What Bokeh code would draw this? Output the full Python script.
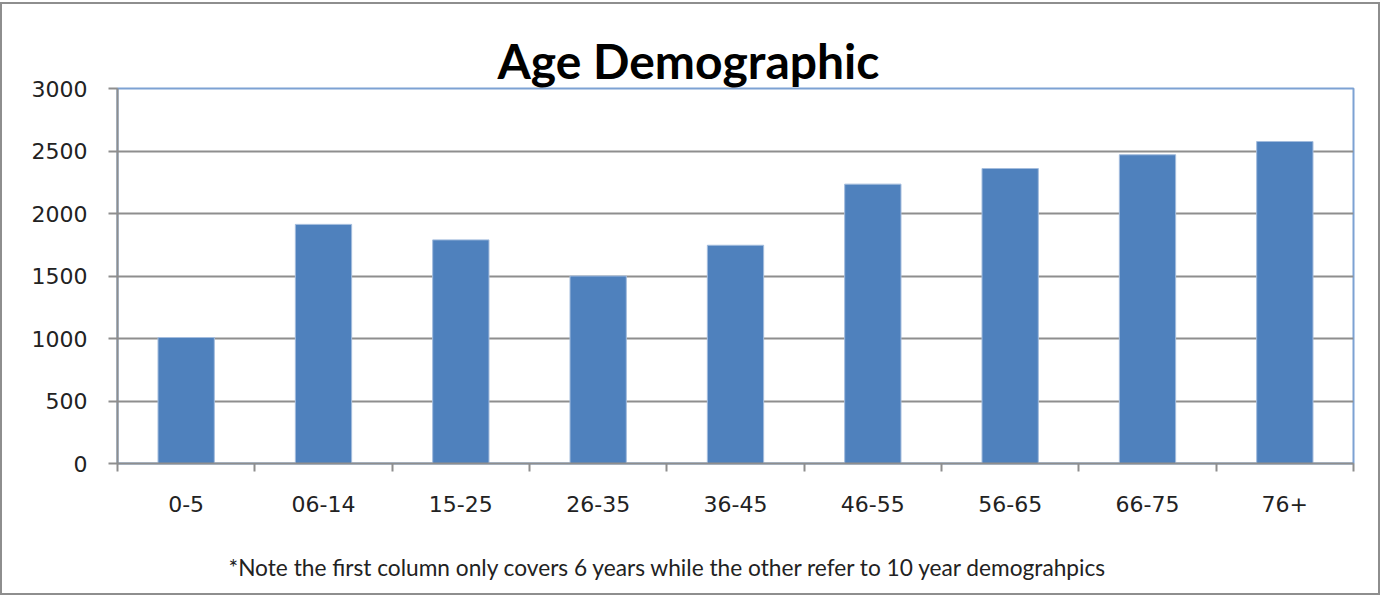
from bokeh.plotting import figure
from bokeh.models import Range1d, FixedTicker, Title
from bokeh.embed import file_html
from bokeh.resources import INLINE

categories = ["0-5", "06-14", "15-25", "26-35", "36-45", "46-55", "56-65", "66-75", "76+"]
population = [1008, 1913, 1789, 1500, 1746, 2235, 2360, 2470, 2576]
y_ticks = [0, 500, 1000, 1500, 2000, 2500, 3000]
title_text = "Age Demographic"
note_text = "*Note  the first column only covers 6 years while the other refer to 10 year demograhpics"

n = len(categories)
centers = [i + 0.5 for i in range(n)]
bounds = list(range(n + 1))

GREY = "#8e8e8e"

p = figure(width=1380, height=593,
           x_range=Range1d(0, n), y_range=Range1d(0, 3000),
           output_backend="svg", toolbar_location=None,
           min_border_left=115, min_border_right=29,
           min_border_top=84, min_border_bottom=134,
           styles={"border": "2px solid " + GREY, "margin-top": "2px"})

p.vbar(x=centers, top=population, width=0.41, bottom=0,
       fill_color="#4f81bd", line_color="#a3bcdd", line_width=1)

p.outline_line_color = "#7da2d3"
p.outline_line_width = 2

p.xgrid.visible = False
p.ygrid.grid_line_color = GREY
p.ygrid.grid_line_width = 2

xa = p.xaxis[0]
xa.ticker = FixedTicker(ticks=centers, minor_ticks=bounds)
xa.major_label_overrides = {c: lab for c, lab in zip(centers, categories)}
xa.major_tick_out = 0
xa.major_tick_in = 0
xa.minor_tick_out = 8
xa.minor_tick_in = 0
xa.minor_tick_line_color = GREY
xa.minor_tick_line_width = 2
xa.axis_line_color = GREY
xa.axis_line_width = 2
xa.major_label_standoff = 24
xa.major_label_text_font = "DejaVu Sans"
xa.major_label_text_font_size = "22px"
xa.major_label_text_color = "#222222"

ya = p.yaxis[0]
ya.ticker = FixedTicker(ticks=y_ticks, minor_ticks=[])
ya.major_tick_out = 9
ya.major_tick_in = 0
ya.major_tick_line_color = GREY
ya.major_tick_line_width = 2
ya.axis_line_color = GREY
ya.axis_line_width = 2
ya.major_label_standoff = 21
ya.major_label_text_font = "DejaVu Sans"
ya.major_label_text_font_size = "22px"
ya.major_label_text_color = "#222222"

p.title.text = title_text
p.title.align = "left"
p.title.offset = 380
p.title.standoff = 0
p.title.text_font = "Lato"
p.title.text_font_style = "bold"
p.title.text_font_size = "48px"
p.title.text_color = "#000000"

note = Title(text="\n" + note_text, align="left", offset=111, standoff=20,
             text_font="Lato", text_font_style="normal",
             text_font_size="22.7px", text_color="#222222")
p.add_layout(note, "below")

open("out.html", "w").write(file_html(p, INLINE))
